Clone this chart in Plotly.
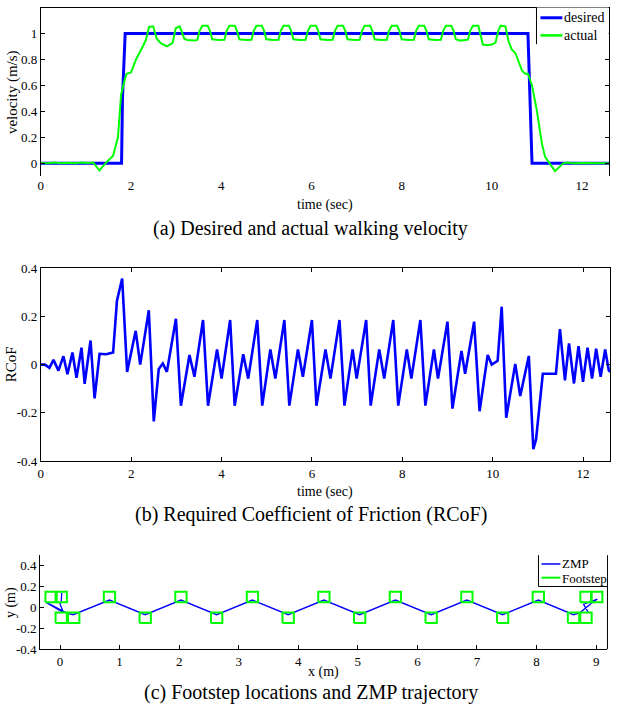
import plotly.graph_objects as go

# ---------------- (a) desired and actual walking velocity ----------------
des_t = [0.0, 1.79, 1.81, 1.87, 10.80, 10.84, 10.89, 12.6]
des_v = [0.0, 0.0, 0.5, 1.0, 1.0, 0.5, 0.0, 0.0]

act_t = [0.00, 0.15, 0.30, 0.45, 0.60, 0.75, 0.90, 1.05, 1.16, 1.30, 1.45, 1.60, 1.71, 1.78, 1.85,
         1.90, 2.00, 2.11, 2.26, 2.33, 2.40, 2.49, 2.57, 2.66, 2.79, 2.92, 2.99, 3.08, 3.18, 3.25,
         3.40, 3.47, 3.52, 3.58, 3.70, 3.75, 3.80, 3.95, 4.07, 4.12, 4.18, 4.30, 4.35, 4.40, 4.55,
         4.67, 4.72, 4.78, 4.90, 4.95, 5.00, 5.15, 5.27, 5.32, 5.38, 5.50, 5.55, 5.60, 5.75, 5.87,
         5.92, 5.98, 6.10, 6.15, 6.20, 6.35, 6.47, 6.52, 6.58, 6.70, 6.75, 6.80, 6.95, 7.07, 7.12,
         7.18, 7.30, 7.35, 7.40, 7.55, 7.67, 7.72, 7.78, 7.90, 7.95, 8.00, 8.15, 8.27, 8.32, 8.38,
         8.50, 8.55, 8.60, 8.75, 8.87, 8.92, 8.98, 9.10, 9.15, 9.20, 9.30, 9.40, 9.47, 9.52, 9.58,
         9.70, 9.74, 9.80, 9.90, 10.00, 10.08, 10.15, 10.20, 10.30, 10.37, 10.44, 10.52, 10.60, 10.67,
         10.74, 10.80, 10.89, 11.00, 11.11, 11.18, 11.40, 11.58, 11.69, 11.80, 12.00, 12.30, 12.60]
act_v = [0.003, 0.000, 0.006, 0.000, 0.005, 0.000, 0.006, 0.002, 0.007, -0.055, 0.007, 0.057, 0.20, 0.53, 0.63,
         0.69, 0.70, 0.80, 0.90, 0.95, 1.05, 1.055, 0.96, 0.925, 0.90, 0.925, 1.04, 1.055, 0.96, 0.95,
         0.945, 0.95, 1.02, 1.06, 1.06, 1.02, 0.955, 0.95, 0.952, 1.02, 1.06, 1.06, 1.02, 0.955, 0.95,
         0.952, 1.02, 1.06, 1.06, 1.02, 0.955, 0.95, 0.952, 1.02, 1.06, 1.06, 1.02, 0.955, 0.95, 0.952,
         1.02, 1.06, 1.06, 1.02, 0.955, 0.95, 0.952, 1.02, 1.06, 1.06, 1.02, 0.955, 0.95, 0.952, 1.02,
         1.06, 1.06, 1.02, 0.955, 0.95, 0.952, 1.02, 1.06, 1.06, 1.02, 0.955, 0.95, 0.952, 1.02, 1.06,
         1.06, 1.02, 0.955, 0.95, 0.952, 1.02, 1.06, 1.06, 1.02, 0.955, 0.945, 0.95, 0.952, 1.02, 1.06,
         1.06, 1.00, 0.915, 0.91, 0.915, 0.93, 1.03, 1.06, 1.055, 0.94, 0.877, 0.85, 0.78, 0.713,
         0.69, 0.69, 0.60, 0.40, 0.15, 0.05, -0.06, 0.0, 0.007, 0.0, 0.002, 0.0, 0.0]

vel_xticks = [0, 2, 4, 6, 8, 10, 12]
vel_yticks = [0, 0.2, 0.4, 0.6, 0.8, 1]
vel_yticklabels = ["0", "0.2", "0.4", "0.6", "0.8", "1"]
vel_legend = ["desired", "actual"]

# ---------------- (b) required coefficient of friction ----------------
rcof_t = [0.00, 0.09, 0.19, 0.28, 0.39, 0.50, 0.59, 0.70, 0.79, 0.90, 0.97, 1.10, 1.19, 1.30, 1.45,
          1.60, 1.685, 1.80, 1.91, 2.10, 2.20, 2.39, 2.50, 2.61, 2.70, 2.79, 2.99, 3.10, 3.29, 3.40,
          3.59, 3.70, 3.90, 4.00, 4.19, 4.29, 4.48, 4.59, 4.79, 4.90, 5.08, 5.19, 5.39, 5.50, 5.69,
          5.80, 6.00, 6.10, 6.30, 6.41, 6.61, 6.72, 6.90, 6.99, 7.20, 7.30, 7.49, 7.60, 7.80, 7.91,
          8.10, 8.20, 8.40, 8.51, 8.70, 8.79, 9.00, 9.11, 9.31, 9.39, 9.59, 9.71, 9.89, 9.98, 10.11,
          10.20, 10.30, 10.50, 10.61, 10.80, 10.90, 10.96, 11.11, 11.40, 11.49, 11.60, 11.69, 11.80,
          11.90, 12.00, 12.10, 12.20, 12.29, 12.39, 12.49, 12.57, 12.60]
rcof_v = [0.0, 0.0, -0.013, 0.02, -0.025, 0.035, -0.04, 0.05, -0.055, 0.07, -0.08, 0.10, -0.14, 0.045, 0.043,
          0.05, 0.265, 0.357, -0.03, 0.14, 0.0, 0.225, -0.235, -0.018, 0.005, -0.03, 0.19, -0.17, 0.04, -0.05,
          0.185, -0.17, 0.063, -0.058, 0.185, -0.17, 0.043, -0.058, 0.185, -0.17, 0.063, -0.058, 0.185, -0.17, 0.063,
          -0.05, 0.185, -0.17, 0.063, -0.058, 0.185, -0.17, 0.063, -0.058, 0.185, -0.17, 0.063, -0.058, 0.185, -0.17,
          0.063, -0.058, 0.185, -0.17, 0.063, -0.058, 0.178, -0.182, 0.057, -0.038, 0.178, -0.193, 0.04, 0.0, 0.016,
          0.24, -0.22, 0.003, -0.13, 0.036, -0.35, -0.31, -0.038, -0.038, 0.147, -0.065, 0.088, -0.078,
          0.077, -0.071, 0.07, -0.058, 0.066, -0.05, 0.063, -0.024, -0.03]

rcof_xticks = [0, 2, 4, 6, 8, 10, 12]
rcof_yticks = [-0.4, -0.2, 0, 0.2, 0.4]
rcof_yticklabels = ["-0.4", "-0.2", "0", "0.2", "0.4"]

# ---------------- (c) footstep locations and ZMP trajectory ----------------
foot_x = [-0.15, 0.02, 0.02, 0.23, 0.83, 1.43, 2.03, 2.63, 3.23, 3.83, 4.43, 5.03, 5.63, 6.23,
          6.83, 7.43, 8.03, 8.62, 8.83, 8.83, 9.01]
foot_y = [0.1, 0.1, -0.1, -0.1, 0.1, -0.1, 0.1, -0.1, 0.1, -0.1, 0.1, -0.1, 0.1, -0.1,
          0.1, -0.1, 0.1, -0.1, 0.1, -0.1, 0.1]
foot_len = 0.19
foot_wid = 0.10

zmp_x = [0.03, 0.02, 0.0, 0.06, -0.24, 0.10, 0.22, 0.83, 1.43, 2.03, 2.63, 3.23, 3.83, 4.43,
         5.03, 5.63, 6.23, 6.83, 7.43, 8.03, 8.62, 8.73, 8.90, 9.02, 8.79, 8.87]
zmp_y = [0.14, 0.06, 0.03, -0.05, 0.05, -0.05, -0.07, 0.07, -0.07, 0.07, -0.07, 0.07, -0.07, 0.07,
         -0.07, 0.07, -0.07, 0.07, -0.07, 0.07, -0.07, -0.05, 0.03, 0.08, 0.03, -0.05]

fs_xticks = [0, 1, 2, 3, 4, 5, 6, 7, 8, 9]
fs_yticks = [-0.4, -0.2, 0, 0.2, 0.4]
fs_yticklabels = ["-0.4", "-0.2", "0", "0.2", "0.4"]
fs_legend = ["ZMP", "Footstep"]

# rectangles for footsteps
rect_x, rect_y = [], []
for cx, cy in zip(foot_x, foot_y):
    hx, hy = foot_len / 2, foot_wid / 2
    rect_x += [cx - hx, cx + hx, cx + hx, cx - hx, cx - hx, None]
    rect_y += [cy - hy, cy - hy, cy + hy, cy + hy, cy - hy, None]

BLUE = "#0000FF"
GREEN = "#00FF00"
FONT = "Liberation Serif"
W, H = 640, 710

fig = go.Figure()
fig.add_trace(go.Scatter(x=des_t, y=des_v, mode="lines", name=vel_legend[0], showlegend=False,
                         line=dict(color=BLUE, width=3), xaxis="x", yaxis="y"))
fig.add_trace(go.Scatter(x=act_t, y=act_v, mode="lines", name=vel_legend[1], showlegend=False,
                         line=dict(color=GREEN, width=2), xaxis="x", yaxis="y"))
fig.add_trace(go.Scatter(x=rcof_t, y=rcof_v, mode="lines", name="RCoF", showlegend=False,
                         line=dict(color=BLUE, width=2.6), xaxis="x2", yaxis="y2"))
fig.add_trace(go.Scatter(x=zmp_x, y=zmp_y, mode="lines", name=fs_legend[0], showlegend=False,
                         line=dict(color=BLUE, width=1.3), xaxis="x3", yaxis="y3"))
fig.add_trace(go.Scatter(x=rect_x, y=rect_y, mode="lines", name=fs_legend[1], showlegend=False,
                         line=dict(color=GREEN, width=2), xaxis="x3", yaxis="y3"))


def px(x):
    return x / W


def py(y):
    return 1 - y / H


tickfont = dict(family=FONT, size=13, color="black")
axcommon = dict(ticklen=4, tickcolor="black", linecolor="black", linewidth=1,
                showgrid=False, zeroline=False, tickfont=tickfont)

fig.update_layout(
    width=W, height=H, margin=dict(l=0, r=0, t=0, b=0),
    paper_bgcolor="white", plot_bgcolor="white",
    font=dict(family=FONT, size=13, color="black"),
    xaxis=dict(domain=[px(38), px(609)], range=[0, 12.6], anchor="y", tickvals=vel_xticks,
               showline=False, ticks="", **axcommon),
    yaxis=dict(domain=[py(173), py(0.5)], range=[-0.1, 1.2], anchor="x", tickvals=vel_yticks,
               ticktext=vel_yticklabels, showline=True, mirror="ticks", ticks="inside", **axcommon),
    xaxis2=dict(domain=[px(38), px(610)], range=[0, 12.6], anchor="y2", tickvals=rcof_xticks,
                showline=True, mirror="ticks", ticks="inside", **axcommon),
    yaxis2=dict(domain=[py(464), py(266.7)], range=[-0.4, 0.4], anchor="x2", tickvals=rcof_yticks,
                ticktext=rcof_yticklabels, showline=True, mirror="ticks", ticks="inside", **axcommon),
    xaxis3=dict(domain=[px(37.3), px(607.3)], range=[-0.334, 9.19], anchor="y3", tickvals=fs_xticks,
                showline=True, ticks="inside", **axcommon),
    yaxis3=dict(domain=[py(656), py(560)], range=[-0.4, 0.5], anchor="x3", tickvals=fs_yticks,
                ticktext=fs_yticklabels, showline=True, ticks="inside", **axcommon),
)

shapes = []
# top frame line of (a)
shapes.append(dict(type="line", xref="x domain", yref="y domain", x0=0, x1=1, y0=1, y1=1,
                   line=dict(color="black", width=1)))
# right frame line of (c)
shapes.append(dict(type="line", xref="x3 domain", yref="y3 domain", x0=1, x1=1, y0=0, y1=1,
                   line=dict(color="black", width=1)))


def pline(x0, y0, x1, y1, color="black", width=1):
    return dict(type="line", xref="paper", yref="paper", x0=px(x0), x1=px(x1), y0=py(y0), y1=py(y1),
                line=dict(color=color, width=width), layer="above")


def prect(x0, y0, x1, y1):
    return dict(type="rect", xref="paper", yref="paper", x0=px(x0), x1=px(x1), y0=py(y1), y1=py(y0),
                fillcolor="white", line=dict(width=0), layer="above")


# legend (a)
shapes.append(prect(536, 0.5, 608.5, 38))
shapes.append(pline(536, 0.5, 536, 38))
shapes.append(pline(540, 11, 562, 11, BLUE, 3))
shapes.append(pline(540, 29, 562, 29, GREEN, 2.5))
# legend (c)
shapes.append(prect(538, 560, 606.8, 592))
shapes.append(pline(538, 560, 538, 592))
shapes.append(pline(538, 592, 607.3, 592))
shapes.append(pline(541, 569, 560, 569, BLUE, 1.5))
shapes.append(pline(541, 583, 560, 583, GREEN, 2))
fig.update_layout(shapes=shapes)

annots = [
    ("velocity (m/s)", 9, 87, -90, 15, "center"),
    ("time (sec)", 323.5, 202, 0, 14, "center"),
    ("(a) Desired and actual walking velocity", 309, 226, 0, 20, "center"),
    ("RCoF", 8, 365, -90, 15, "center"),
    ("time (sec)", 324, 495, 0, 14, "center"),
    ("(b) Required Coefficient of Friction (RCoF)", 309, 518, 0, 20, "center"),
    ("y (m)", 8, 608, -90, 14, "center"),
    ("x (m)", 322.5, 679, 0, 14, "center"),
    ("(c) Footstep locations and ZMP trajectory", 309, 700, 0, 20, "center"),
    (vel_legend[0], 563, 11, 0, 14, "left"),
    (vel_legend[1], 563, 29, 0, 14, "left"),
    (fs_legend[0], 561, 568, 0, 13, "left"),
    (fs_legend[1], 561, 584, 0, 13, "left"),
]
for text, x, y, ang, size, anchor in annots:
    fig.add_annotation(text=text, x=px(x), y=py(y), xref="paper", yref="paper",
                       xanchor=anchor, yanchor="middle", showarrow=False, textangle=ang,
                       borderpad=0, font=dict(family=FONT, size=size, color="black"))

fig.write_html("out.html", config={"displayModeBar": False},
               post_script="document.body.style.margin='0';document.body.style.overflow='hidden';")
